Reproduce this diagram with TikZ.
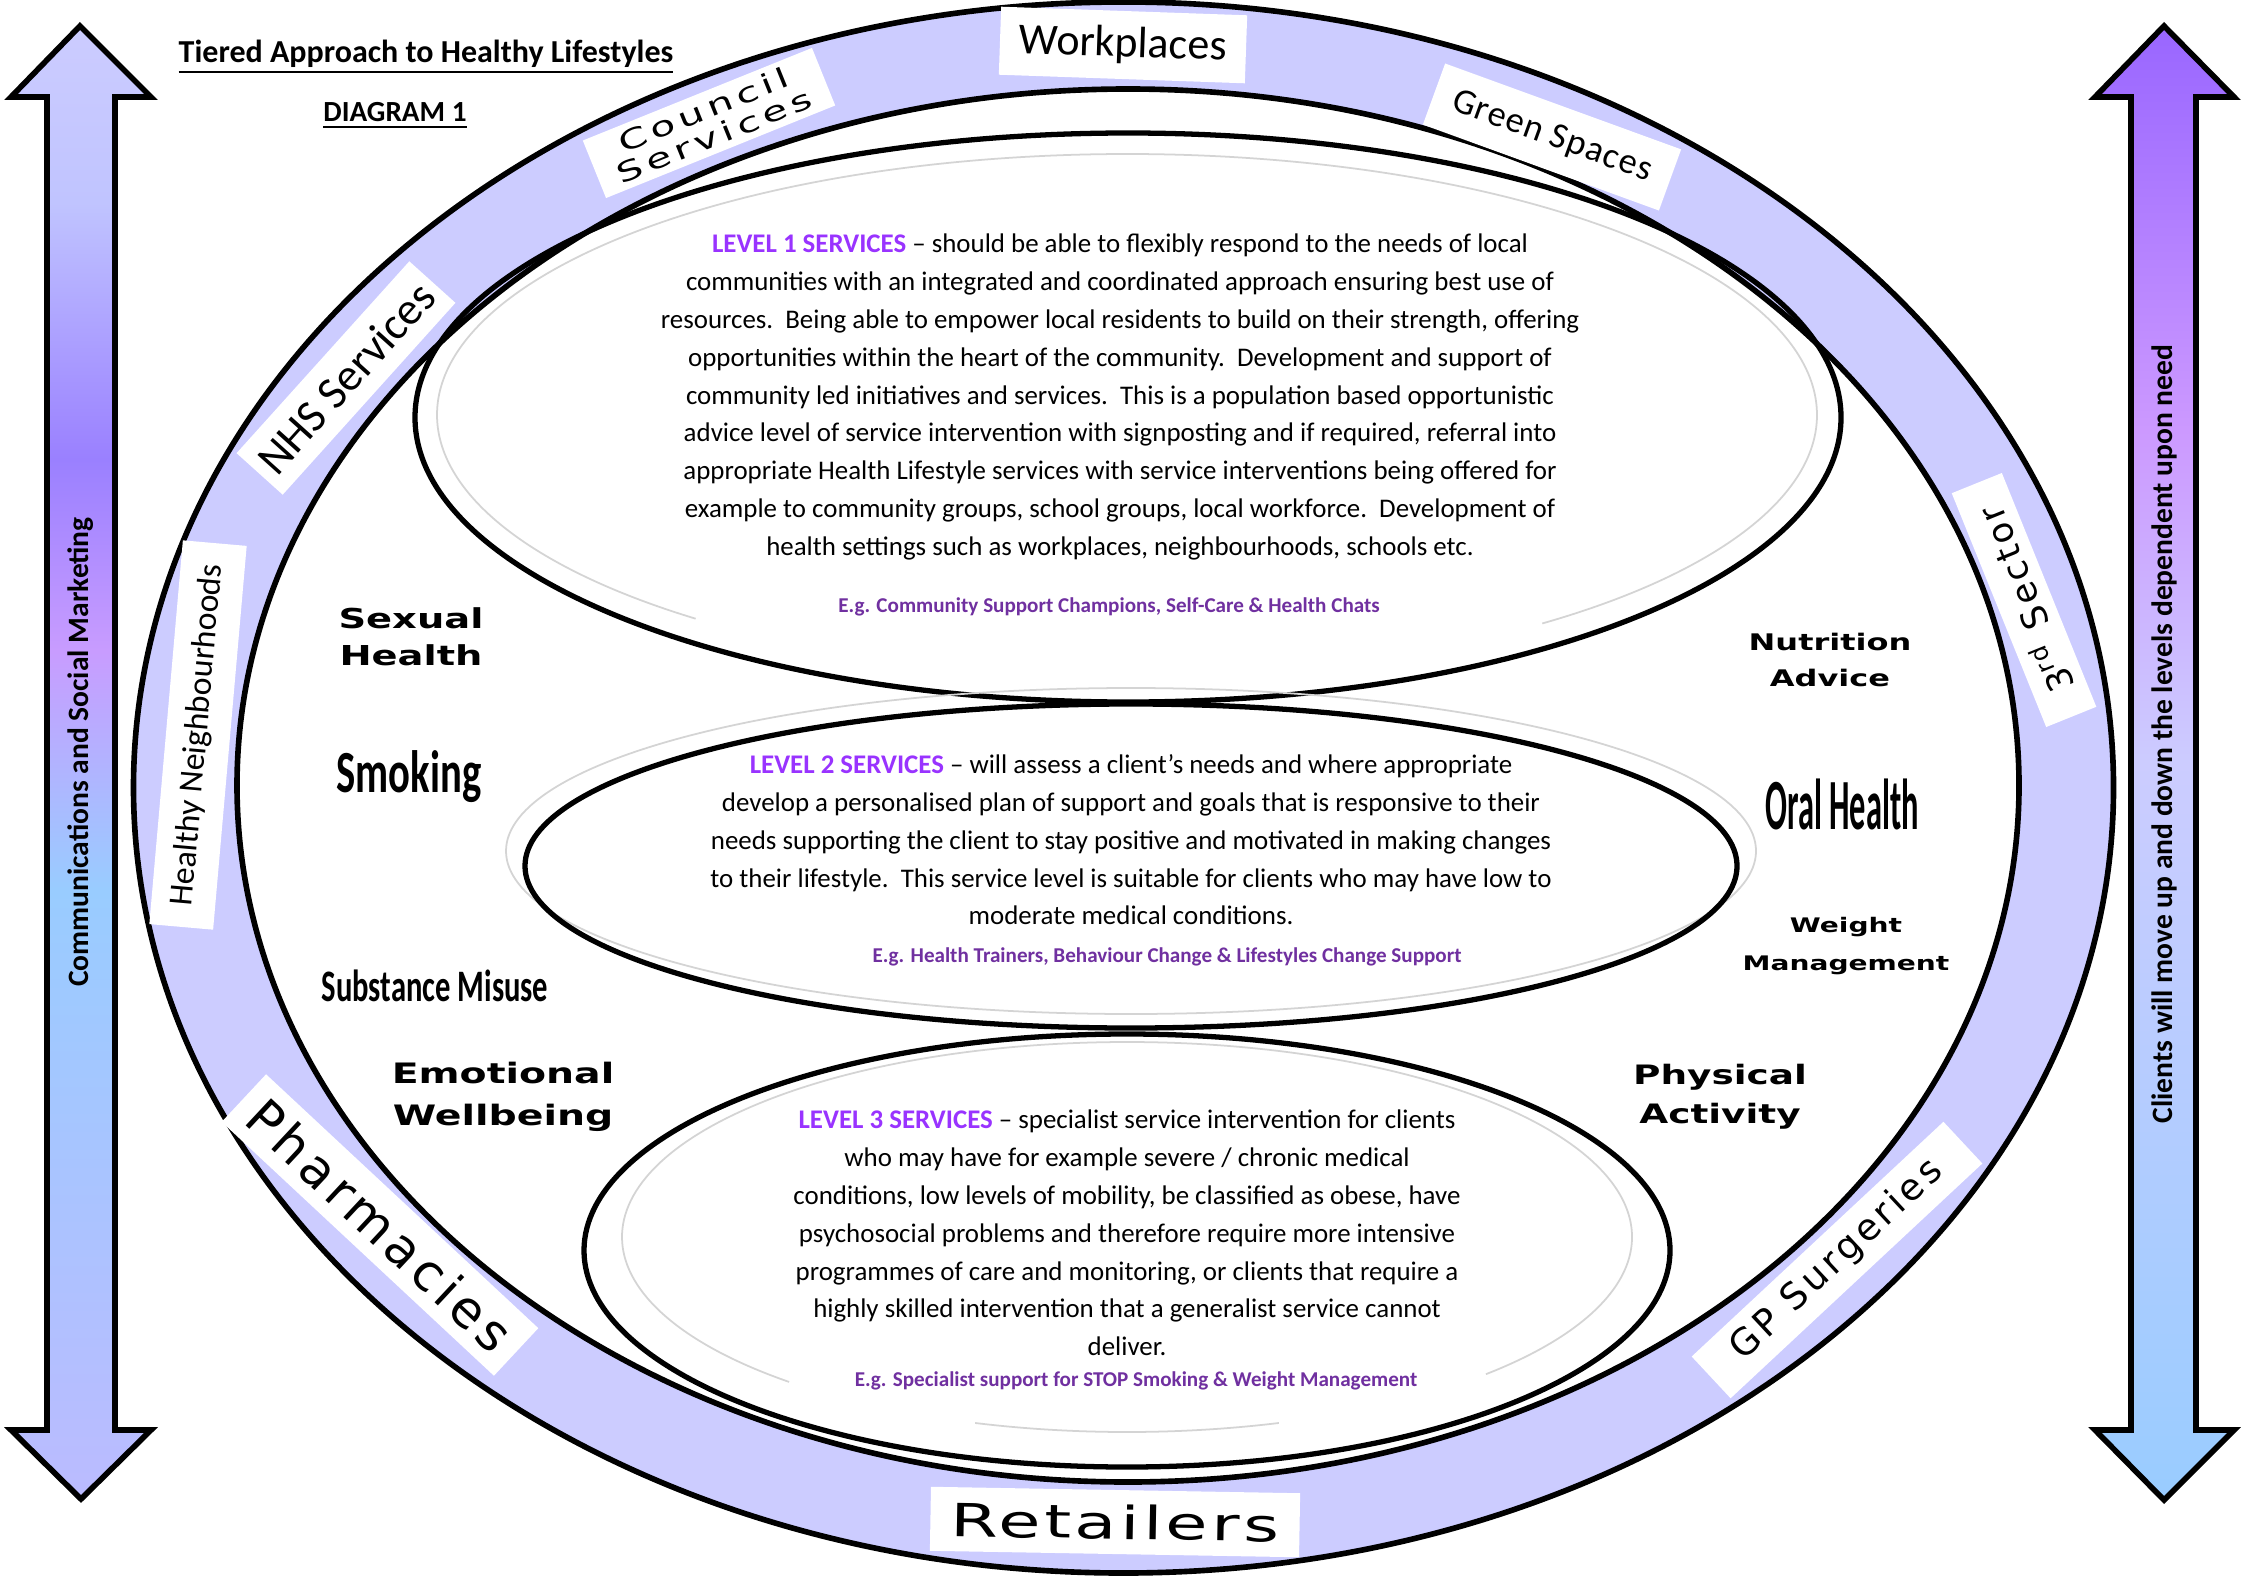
\documentclass[tikz,border=0pt]{standalone}
\usepackage{fontspec}
\setmainfont{Carlito}
\newfontfamily\ringfont[LetterSpace=10]{DejaVu Sans}
\newfontfamily\broadfont[FakeStretch=1.5,LetterSpace=8]{DejaVu Sans}
\newfontfamily\artfont[FakeStretch=1.4]{DejaVu Sans}
\newfontfamily\tallfont[FakeStretch=0.68]{Carlito}
\newfontfamily\slimfont[FakeStretch=0.45]{Carlito}

\definecolor{ringfill}{HTML}{CCCCFF}
\definecolor{levelhead}{HTML}{9933FF}
\definecolor{egpurple}{HTML}{7030A0}
\definecolor{shadowgrey}{HTML}{D4D4D4}
\definecolor{lbA}{HTML}{BBBBFF}
\definecolor{lbB}{HTML}{99CCFF}
\definecolor{lbC}{HTML}{C89CFF}
\definecolor{lbD}{HTML}{9A80FF}
\definecolor{lbE}{HTML}{C0C4FF}
\definecolor{lbF}{HTML}{CCCCFF}
\definecolor{rbA}{HTML}{99CCFF}
\definecolor{rbB}{HTML}{CCCCFF}
\definecolor{rbC}{HTML}{CC99FF}
\definecolor{rbD}{HTML}{9966FF}

\pgfdeclareverticalshading{leftbar}{100bp}{color(0bp)=(lbA); color(25bp)=(lbA); color(45.7bp)=(lbB); color(53.8bp)=(lbC); color(60.3bp)=(lbD); color(69bp)=(lbE); color(75bp)=(lbF); color(100bp)=(lbF)}
\pgfdeclareverticalshading{rightbar}{100bp}{color(0bp)=(rbA); color(25bp)=(rbA); color(50bp)=(rbB); color(61.3bp)=(rbC); color(75bp)=(rbD); color(100bp)=(rbD)}

\tikzset{
	ringline/.style={line width=1.6pt},
	levelline/.style={line width=1.5pt},
	shadowline/.style={draw=shadowgrey, line width=0.5pt},
	ringtag/.style={fill=white, inner sep=0pt, align=center},
	sidetext/.style={rotate=90, font=\bfseries\fontsize{8.4}{10}\selectfont},
	leveltext/.style={align=center, inner sep=0pt, font=\fontsize{7.65}{10.75}\selectfont},
	egtext/.style={inner sep=0pt, text=egpurple, font=\bfseries\fontsize{6}{7}\selectfont},
	arttext/.style={align=center, inner sep=0pt}
}

\begin{document}
\begin{tikzpicture}[x=0.01cm, y=-0.01cm]
	\useasboundingbox (0,0) rectangle (2246,1588);
	\fill[white] (0,0) rectangle (2246,1588);

	\shade[shading=leftbar, draw=black, ringline] (80,26) -- (151,97) -- (115,97) -- (115,1430) -- (151,1430) -- (81,1499) -- (11,1430) -- (47,1430) -- (47,97) -- (11,97) -- cycle;
	\shade[shading=rightbar, draw=black, ringline] (2164,26) -- (2234,97) -- (2196,97) -- (2196,1430) -- (2234,1430) -- (2164,1500) -- (2095,1430) -- (2131,1430) -- (2131,97) -- (2095,97) -- cycle;
	\node[sidetext] (commtext) at (81,752) {Communications and Social Marketing};
	\node[sidetext] (clienttext) at (2164,734) {Clients will move up and down the levels dependent upon need};

	\node[font=\bfseries\fontsize{9.1}{11}\selectfont] (title) at (426,57) {\underline{Tiered Approach to Healthy Lifestyles}};
	\node[font=\bfseries\fontsize{8.3}{10}\selectfont] (diagram) at (395,116) {\underline{DIAGRAM 1}};

	\coordinate (outerc) at (1123.5,787.5);
	\coordinate (innerc) at (1128,785.5);
	\fill[ringfill, even odd rule] (outerc) ellipse [x radius=990, y radius=785.5] (innerc) ellipse [x radius=891, y radius=696.5];
	\draw[ringline] (outerc) ellipse [x radius=990, y radius=785.5];
	\draw[ringline] (innerc) ellipse [x radius=891, y radius=696.5];

	\node[ringtag, minimum width=2.46cm, minimum height=0.68cm, rotate=-2, font=\fontsize{12.5}{14}\selectfont] (workplaces) at (1123,45) {Workplaces};
	\node[ringtag, minimum width=2.51cm, minimum height=0.65cm, rotate=-20, font=\addfontfeature{LetterSpace=3}\fontsize{10.3}{12}\selectfont] (greenspaces) at (1552,137) {Green Spaces};
	\node[ringtag, minimum width=2.47cm, minimum height=0.62cm, rotate=22, font=\broadfont\addfontfeature{LetterSpace=18}\fontsize{7.8}{8}\selectfont] (council) at (709,123) {Council\\Services};
	\node[ringtag, minimum width=2.58cm, minimum height=0.62cm, rotate=48, font=\fontsize{13}{15}\selectfont] (nhs) at (346,378) {NHS Services};
	\node[ringtag, minimum width=3.85cm, minimum height=0.64cm, rotate=85, font=\fontsize{9.6}{11}\selectfont] (neighbourhoods) at (198,735) {Healthy Neighbourhoods};
	\node[ringtag, minimum width=3.72cm, minimum height=0.65cm, rotate=-43, font=\ringfont\fontsize{14.5}{16}\selectfont] (pharmacies) at (380,1225) {Pharmacies};
	\node[ringtag, minimum width=3.44cm, minimum height=0.57cm, rotate=43, font=\ringfont\fontsize{10.5}{12}\selectfont] (gpsurgeries) at (1837,1260) {GP Surgeries};
	\node[ringtag, minimum width=2.52cm, minimum height=0.54cm, rotate=112, font=\ringfont\fontsize{10}{12}\selectfont] (thirdsector) at (2024,600) {3\textsuperscript{rd} Sector};
	\node[ringtag, minimum width=3.69cm, minimum height=0.64cm, rotate=-1, font=\broadfont\fontsize{13}{15}\selectfont] (retailers) at (1115,1522) {Retailers};

	\draw[shadowline] (1127,415) ++(128.7:690 and 261) arc[start angle=128.7, end angle=413, x radius=690, y radius=261];
	\draw[levelline] (1128,417.5) ellipse [x radius=713, y radius=284.5];
	\draw[shadowline] (1131,851) ellipse [x radius=625, y radius=163];
	\draw[levelline] (1131,866) ellipse [x radius=606, y radius=162];
	\draw[shadowline] (1127,1237) ++(132:505 and 195) arc[start angle=132, end angle=404.7, x radius=505, y radius=195];
	\draw[shadowline] (1127,1237) ++(72.5:505 and 195) arc[start angle=72.5, end angle=107.5, x radius=505, y radius=195];
	\draw[levelline] (1127,1250.5) ellipse [x radius=543, y radius=216.5];

	\node[leveltext] (levelone) at (1120,397) {{\color{levelhead}\bfseries LEVEL 1 SERVICES} -- should be able to flexibly respond to the needs of local\\
		communities with an integrated and coordinated approach ensuring best use of\\
		resources.\ \ Being able to empower local residents to build on their strength, offering\\
		opportunities within the heart of the community.\ \ Development and support of\\
		community led initiatives and services.\ \ This is a population based opportunistic\\
		advice level of service intervention with signposting and if required, referral into\\
		appropriate Health Lifestyle services with service interventions being offered for\\
		example to community groups, school groups, local workforce.\ \ Development of\\
		health settings such as workplaces, neighbourhoods, schools etc.};
	\node[egtext] (egone) at (1109,607) {E.g. Community Support Champions, Self-Care \& Health Chats};

	\node[leveltext] (leveltwo) at (1131,840) {{\color{levelhead}\bfseries LEVEL 2 SERVICES} -- will assess a client’s needs and where appropriate\\
		develop a personalised plan of support and goals that is responsive to their\\
		needs supporting the client to stay positive and motivated in making changes\\
		to their lifestyle.\ \ This service level is suitable for clients who may have low to\\
		moderate medical conditions.};
	\node[egtext] (egtwo) at (1167,957) {E.g. Health Trainers, Behaviour Change \& Lifestyles Change Support};

	\node[leveltext] (levelthree) at (1127,1233) {{\color{levelhead}\bfseries LEVEL 3 SERVICES} -- specialist service intervention for clients\\
		who may have for example severe / chronic medical\\
		conditions, low levels of mobility, be classified as obese, have\\
		psychosocial problems and therefore require more intensive\\
		programmes of care and monitoring, or clients that require a\\
		highly skilled intervention that a generalist service cannot\\
		deliver.};
	\node[egtext] (egthree) at (1136,1381) {E.g. Specialist support for STOP Smoking \& Weight Management};

	\node[arttext, font=\artfont\bfseries\fontsize{7.8}{10.5}\selectfont] (sexual) at (411,637) {Sexual\\Health};
	\node[arttext, font=\tallfont\bfseries\fontsize{17}{19}\selectfont] (smoking) at (409,777) {Smoking};
	\node[arttext, font=\tallfont\bfseries\fontsize{12.8}{15}\selectfont] (substance) at (435,986) {Substance Misuse};
	\node[arttext, font=\artfont\bfseries\fontsize{8}{12}\selectfont] (emotional) at (503,1097) {Emotional\\Wellbeing};
	\node[arttext, font=\artfont\bfseries\fontsize{6.5}{10.5}\selectfont] (nutrition) at (1830,660) {Nutrition\\Advice};
	\node[arttext, font=\slimfont\bfseries\fontsize{20.5}{22}\selectfont] (oral) at (1842,804) {Oral Health};
	\node[arttext, font=\artfont\bfseries\fontsize{5.7}{11}\selectfont] (weight) at (1846,946) {Weight\\Management};
	\node[arttext, font=\artfont\bfseries\fontsize{7.6}{11}\selectfont] (physical) at (1720,1097) {Physical\\Activity};
\end{tikzpicture}
\end{document}
